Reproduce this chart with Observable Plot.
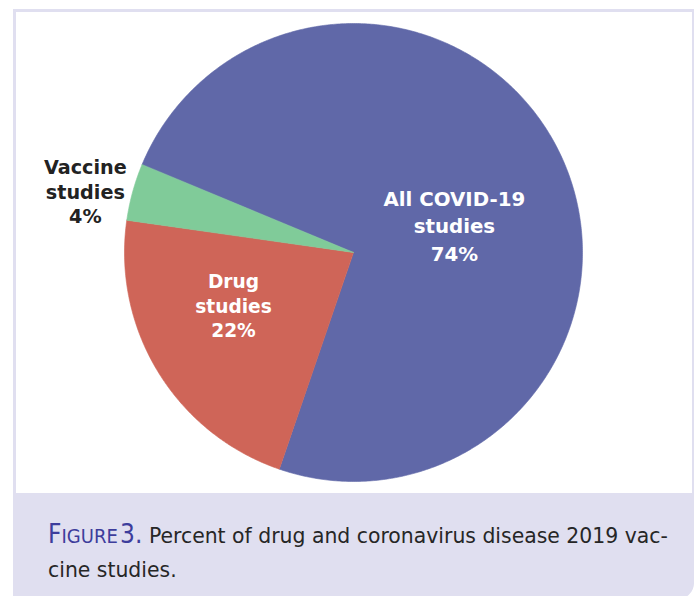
<!DOCTYPE html>
<html>
<head>
<meta charset="utf-8">
<script src="https://cdn.jsdelivr.net/npm/d3@7"></script>
<script src="https://cdn.jsdelivr.net/npm/@observablehq/plot@0.6"></script>
<style>
  html, body { margin: 0; padding: 0; background: #ffffff; }
  #page { position: relative; width: 696px; height: 596px; overflow: hidden; }
  #frame { position: absolute; left: 13px; top: 9px; width: 681px; height: 590px;
           background: #e0dff0; border-bottom-right-radius: 16px; }
  #inner { position: absolute; left: 16px; top: 12px; width: 676px; height: 481px; background: #ffffff; }
  #chart { position: absolute; left: 16px; top: 12px; }
  #caption { position: absolute; left: 48px; top: 517px; width: 645px;
             font-family: "DejaVu Sans", sans-serif; font-size: 20.4px; line-height: 34px; color: #262626; }
  .fig { font-family: "DejaVu Sans Condensed", "DejaVu Sans", sans-serif; font-stretch: condensed; color: #3d3d9c; }
  .fig .big { font-size: 26px; }
  .fig .sc { font-size: 20px; }
</style>
</head>
<body>
<div id="page">
  <div id="frame"></div>
  <div id="inner"></div>
  <div id="chart"></div>
  <div id="caption"><span class="fig"><span class="big">F</span><span class="sc">IGURE</span><span class="big">&#8202;3.</span></span> Percent of drug and coronavirus disease 2019 vac-<br>cine studies.</div>
</div>
<script>
// ---- data ----
const categories = ["All COVID-19 studies", "Drug studies", "Vaccine studies"];
const labelLines = ["All COVID-19\nstudies", "Drug\nstudies", "Vaccine\nstudies"];
const percents = [74, 22, 4];
const colors = ["#6068a8", "#cf6558", "#80cb99"];

// ---- layout options (not data) ----
const startDeg = -67.5;          // where the first slice begins, clockwise from top
const labelPlace = [             // radius fraction and angle nudge (deg) for each label
  {r: 0.455, shift: 9.8},
  {r: 0.575, shift: 7.2},
  {r: 1.20, shift: -2.7}
];
const labelFill = ["white", "white", "#222222"];

// ---- build slice polygons from the values ----
const total = d3.sum(percents);
const rad = Math.PI / 180;
let acc = startDeg;
const polys = [];
const labels = [];
categories.forEach((name, i) => {
  const a0 = acc;
  const a1 = acc + percents[i] / total * 360;
  acc = a1;
  polys.push({name, x: 0, y: 0});
  const n = Math.max(2, Math.ceil((a1 - a0) / 0.5));
  for (let k = 0; k <= n; k++) {
    const a = (a0 + (a1 - a0) * k / n) * rad;
    polys.push({name, x: Math.sin(a), y: Math.cos(a)});
  }
  const mid = ((a0 + a1) / 2 + labelPlace[i].shift) * rad;
  labels.push({
    name,
    text: labelLines[i] + "\n" + percents[i] + "%",
    x: labelPlace[i].r * Math.sin(mid),
    y: labelPlace[i].r * Math.cos(mid),
    fill: labelFill[i]
  });
});

const cx = 337, cy = 240, R = 229;
const chart = Plot.plot({
  width: 676,
  height: 481,
  margin: 0,
  style: {background: "transparent"},
  x: {domain: [-1, 1], range: [cx - R, cx + R], axis: null},
  y: {domain: [-1, 1], range: [cy + R, cy - R], axis: null},
  color: {domain: categories, range: colors},
  marks: [
    Plot.line(polys, {x: "x", y: "y", z: "name", fill: "name", stroke: "name", strokeWidth: 0.6, curve: "linear-closed"}),
    Plot.text(labels.filter(d => d.name === categories[0]), {x: "x", y: "y", dy: -2, text: "text", fill: "fill",
      fontFamily: "DejaVu Sans", fontWeight: "bold", fontSize: 19.8, lineHeight: 1.4}),
    Plot.text(labels.filter(d => d.name === categories[1]), {x: "x", y: "y", dy: -2, text: "text", fill: "fill",
      fontFamily: "DejaVu Sans", fontWeight: "bold", fontSize: 18.6, lineHeight: 1.33}),
    Plot.text(labels.filter(d => d.name === categories[2]), {x: "x", y: "y", dy: -2, text: "text", fill: "fill",
      fontFamily: "DejaVu Sans", fontWeight: "bold", fontSize: 19.2, lineHeight: 1.3})
  ]
});
document.getElementById("chart").appendChild(chart);
</script>
</body>
</html>
